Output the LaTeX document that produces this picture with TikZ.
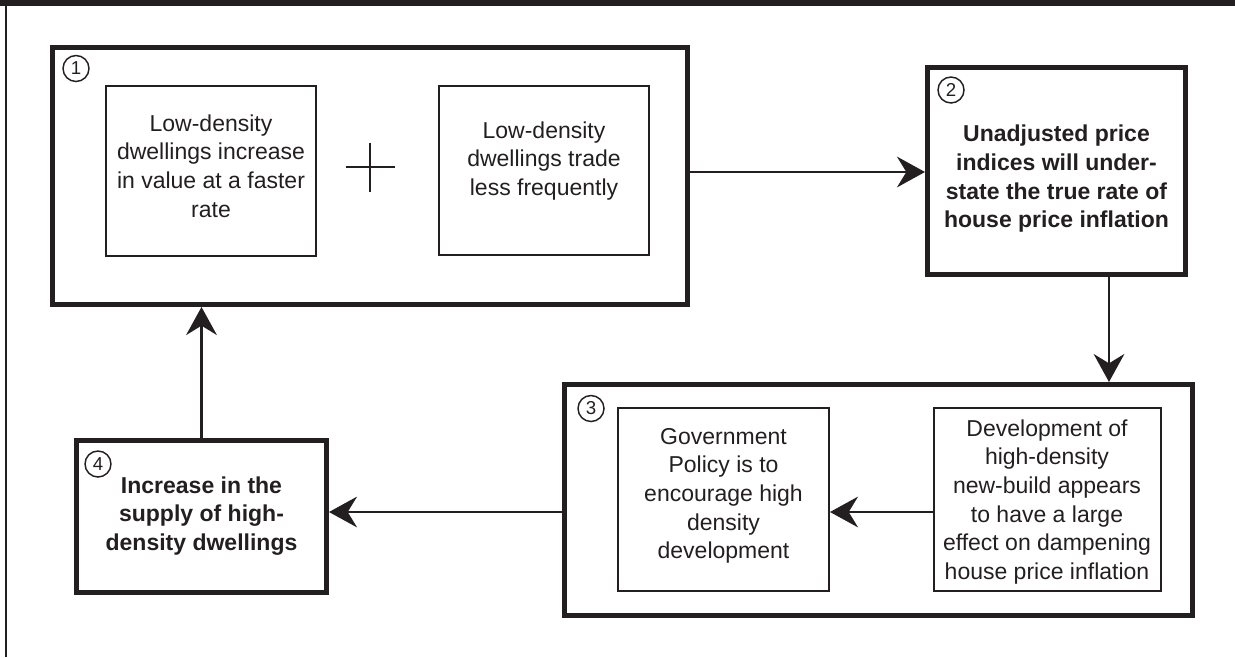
\documentclass[tikz,border=0pt]{standalone}
\usepackage{fontspec}
\setmainfont{Liberation Sans}
\usetikzlibrary{arrows.meta}
\definecolor{ink}{HTML}{231F20}
\begin{document}
\begin{tikzpicture}[x=0.75pt,y=-0.75pt,
  bigbox/.style={draw=ink, line width=3.75pt, inner sep=0pt},
  smallbox/.style={draw=ink, line width=1.5pt, inner sep=0pt},
  lbl/.style={text=ink, align=center, font=\fontsize{17.25pt}{21.5pt}\selectfont, inner sep=0pt},
  blbl/.style={text=ink, align=center, font=\fontsize{17.25pt}{21.5pt}\selectfont\bfseries, inner sep=0pt},
  num/.style={circle, draw=ink, line width=1.1pt, minimum size=19.5pt, inner sep=0pt, text=ink, font=\fontsize{14pt}{14pt}\selectfont},
  arr/.style={draw=ink, line width=2pt, -{Stealth[length=21pt,width=23pt,inset=7pt]}},
]
\useasboundingbox (0,0) rectangle (1235,657);
\fill[ink] (0,0) rectangle (1235,6);
\draw[ink, line width=1.5pt] (6,6) -- (6,657);

% outer boxes
\node[bigbox, minimum width=476.625pt, minimum height=192.75pt] (b1) at (369.75,176) {};
\node[bigbox, minimum width=193.5pt, minimum height=155.25pt] (b2) at (1056.5,171) {};
\node[bigbox, minimum width=471pt, minimum height=173.25pt] (b3) at (878.5,500) {};
\node[bigbox, minimum width=187.5pt, minimum height=114pt] (b4) at (201.5,516.5) {};

% inner boxes
\node[smallbox, minimum width=157.5pt, minimum height=127.5pt] (bA) at (211,171) {};
\node[smallbox, minimum width=157.5pt, minimum height=126.75pt] (bB) at (544,170.5) {};
\node[smallbox, minimum width=158.25pt, minimum height=137.25pt] (bC) at (723.5,499.5) {};
\node[smallbox, minimum width=170.25pt, minimum height=137.25pt] (bD) at (1047,499.5) {};

% numbers
\node[num] (n1) at (76,68.5) {1};
\node[num] (n2) at (951,90) {2};
\node[num] (n3) at (591,408.5) {3};
\node[num] (n4) at (98,464) {4};

% texts
\node[lbl] (tA) at (211,166) {Low-density\\dwellings increase\\in value at a faster\\rate};
\node[lbl] (tB) at (544,161) {Low-density\\dwellings trade\\less frequently};
\node[blbl] (t2) at (1056.5,179) {Unadjusted price\\indices will under-\\state the true rate of\\house price inflation};
\node[lbl] (tC) at (723.5,496) {Government\\Policy is to\\encourage high\\density\\development};
\node[lbl] (tD) at (1047,502) {Development of\\high-density\\new-build appears\\to have a large\\effect on dampening\\house price inflation};
\node[blbl] (t4) at (201.5,516) {Increase in the\\supply of high-\\density dwellings};

% plus sign
\draw[ink, line width=1.9pt] (345.5,167) -- (394.5,167) (370,142.5) -- (370,191.5);

% connectors
\coordinate (y12) at (0,172);
\coordinate (x23) at (1109,0);
\coordinate (y34) at (0,512);
\draw[arr] (b1.east |- y12) -- (b2.west |- y12);
\draw[arr] (b2.south -| x23) -- (b3.north -| x23);
\draw[arr] (b3.west |- y34) -- (b4.east |- y34);
\draw[arr] (b4.north) -- (b1.south -| b4.north);
\draw[arr] (bD.west |- y34) -- (bC.east |- y34);
\end{tikzpicture}
\end{document}
